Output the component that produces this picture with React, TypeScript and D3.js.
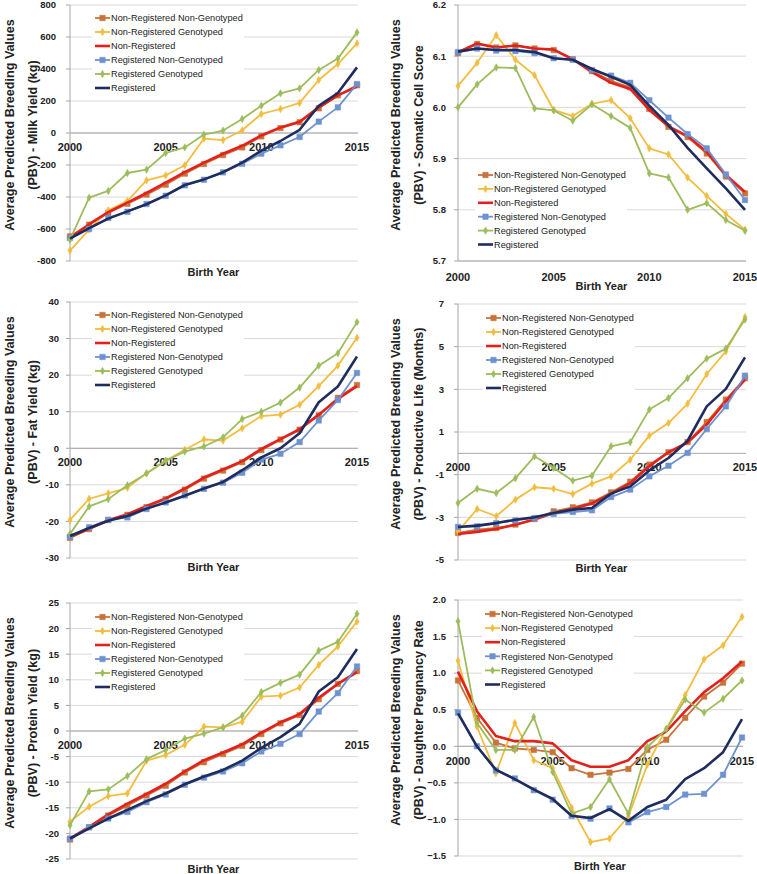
import React from 'react';
import * as d3 from 'd3';

const years = [2000, 2001, 2002, 2003, 2004, 2005, 2006, 2007, 2008, 2009, 2010, 2011, 2012, 2013, 2014, 2015];
const yearTicks = [2000, 2005, 2010, 2015];

const seriesNames = [
  'Non-Registered Non-Genotyped',
  'Non-Registered Genotyped',
  'Non-Registered',
  'Registered Non-Genotyped',
  'Registered Genotyped',
  'Registered',
];

// series order: NRNG, NRG, NR, RNG, RG, R
const milkValues = [
  [-646, -573, -500, -442, -385, -323, -254, -194, -138, -90, -21, 31, 67, 154, 235, 298],
  [-735, -604, -483, -425, -296, -265, -202, -35, -44, 17, 119, 150, 188, 331, 431, 560],
  [-655, -570, -495, -435, -375, -310, -245, -185, -130, -80, -15, 35, 70, 160, 235, 290],
  [-656, -600, -531, -492, -444, -392, -327, -292, -246, -192, -129, -77, -25, 71, 160, 306],
  [-667, -404, -362, -250, -229, -125, -90, -10, 15, 88, 171, 248, 279, 394, 465, 629],
  [-660, -595, -535, -490, -445, -390, -325, -290, -245, -185, -110, -50, 20, 170, 250, 410],
];
const milkTicks = [-800, -600, -400, -200, 0, 200, 400, 600, 800];

const scsValues = [
  [6.106, 6.124, 6.117, 6.121, 6.115, 6.112, 6.094, 6.071, 6.052, 6.039, 5.997, 5.962, 5.942, 5.910, 5.865, 5.832],
  [6.042, 6.087, 6.141, 6.093, 6.063, 5.995, 5.983, 6.007, 6.014, 5.979, 5.920, 5.908, 5.863, 5.827, 5.792, 5.761],
  [6.108, 6.125, 6.117, 6.121, 6.115, 6.113, 6.094, 6.069, 6.048, 6.036, 5.995, 5.963, 5.944, 5.913, 5.868, 5.835],
  [6.108, 6.115, 6.111, 6.110, 6.106, 6.096, 6.093, 6.073, 6.062, 6.048, 6.014, 5.980, 5.948, 5.920, 5.869, 5.819],
  [6.000, 6.045, 6.078, 6.077, 5.998, 5.994, 5.974, 6.006, 5.983, 5.960, 5.871, 5.863, 5.800, 5.813, 5.780, 5.759],
  [6.109, 6.115, 6.112, 6.112, 6.108, 6.096, 6.093, 6.075, 6.060, 6.044, 6.003, 5.966, 5.921, 5.881, 5.842, 5.800],
];
const scsTicks = [5.7, 5.8, 5.9, 6.0, 6.1, 6.2];

const fatValues = [
  [-24.5, -22.1, -19.6, -18.2, -16.1, -13.9, -11.3, -8.3, -6.1, -3.8, -0.5, 2.4, 5.1, 9.0, 13.8, 17.3],
  [-19.6, -13.8, -12.3, -10.8, -6.8, -3.4, -0.4, 2.4, 2.1, 5.5, 8.8, 9.2, 11.9, 17.0, 22.6, 30.2],
  [-24.2, -22.0, -19.7, -18.0, -15.8, -13.7, -11.0, -8.0, -5.8, -3.5, -0.2, 2.5, 5.2, 9.2, 13.5, 17.0],
  [-24.2, -21.6, -19.6, -18.9, -16.6, -14.8, -12.9, -11.1, -9.4, -6.7, -3.1, -1.5, 1.7, 7.6, 13.2, 20.6],
  [-23.4, -15.9, -13.9, -10.1, -6.9, -3.4, -0.9, 0.5, 3.0, 8.0, 10.0, 12.5, 16.6, 22.6, 26.0, 34.5],
  [-24.0, -21.8, -19.8, -18.5, -16.5, -14.8, -13.0, -11.0, -9.2, -6.0, -2.5, 0.0, 4.1, 12.6, 16.9, 25.1],
];
const fatTicks = [-30, -20, -10, 0, 10, 20, 30, 40];

const plValues = [
  [-3.73, -3.58, -3.50, -3.34, -3.08, -2.72, -2.53, -2.30, -1.83, -1.33, -0.53, 0.05, 0.53, 1.47, 2.52, 3.52],
  [-3.66, -2.61, -2.95, -2.17, -1.59, -1.66, -1.91, -1.42, -1.08, -0.30, 0.83, 1.42, 2.33, 3.72, 4.78, 6.39],
  [-3.78, -3.68, -3.55, -3.35, -3.10, -2.80, -2.60, -2.35, -1.90, -1.40, -0.60, 0.05, 0.50, 1.35, 2.45, 3.45],
  [-3.45, -3.42, -3.27, -3.14, -3.03, -2.84, -2.75, -2.67, -2.05, -1.70, -1.08, -0.58, 0.02, 1.14, 2.20, 3.64],
  [-2.33, -1.66, -1.86, -1.17, -0.14, -0.69, -1.28, -1.05, 0.33, 0.52, 2.05, 2.59, 3.52, 4.44, 4.91, 6.27],
  [-3.45, -3.39, -3.27, -3.11, -3.00, -2.80, -2.64, -2.56, -1.89, -1.55, -0.80, -0.22, 0.59, 2.20, 3.02, 4.50],
];
const plTicks = [-5, -3, -1, 1, 3, 5, 7];

const proteinValues = [
  [-21.2, -18.8, -16.5, -14.6, -12.6, -10.7, -8.1, -6.1, -4.5, -2.9, -0.6, 1.5, 3.1, 6.2, 9.2, 11.7],
  [-17.7, -14.8, -12.7, -12.2, -5.8, -4.7, -2.7, 0.85, 0.7, 1.8, 6.7, 6.9, 8.5, 12.9, 16.5, 21.4],
  [-21.0, -18.7, -16.3, -14.2, -12.3, -10.3, -7.9, -5.7, -4.2, -2.6, -0.3, 1.7, 3.3, 6.5, 9.2, 11.5],
  [-21.0, -18.8, -17.1, -15.8, -13.9, -12.4, -10.5, -9.1, -7.9, -6.3, -4.0, -2.5, -0.6, 3.8, 7.4, 12.6],
  [-18.4, -11.8, -11.4, -8.8, -5.5, -3.7, -1.5, -0.5, 0.7, 3.0, 7.6, 9.4, 11.0, 15.7, 17.4, 22.9],
  [-21.0, -19.0, -17.1, -15.4, -13.7, -12.2, -10.4, -8.9, -7.6, -5.8, -3.3, -1.2, 1.4, 7.7, 10.5, 16.0],
];
const proteinTicks = [-25, -20, -15, -10, -5, 0, 5, 10, 15, 20, 25];

const dprValues = [
  [0.90, 0.39, 0.05, -0.03, -0.05, -0.08, -0.30, -0.39, -0.36, -0.31, -0.05, 0.09, 0.39, 0.68, 0.87, 1.13],
  [1.17, 0.27, -0.37, 0.32, -0.19, -0.30, -0.84, -1.31, -1.26, -0.96, -0.25, 0.24, 0.70, 1.19, 1.38, 1.77],
  [1.02, 0.48, 0.14, 0.07, 0.07, 0.04, -0.19, -0.28, -0.28, -0.19, 0.07, 0.20, 0.48, 0.74, 0.93, 1.16],
  [0.46, 0.00, -0.33, -0.44, -0.60, -0.73, -0.95, -0.99, -0.85, -1.04, -0.90, -0.83, -0.66, -0.65, -0.39, 0.12],
  [1.71, 0.32, -0.05, -0.05, 0.40, -0.35, -0.92, -0.83, -0.45, -0.92, -0.01, 0.23, 0.64, 0.46, 0.65, 0.90],
  [0.45, 0.00, -0.32, -0.45, -0.59, -0.72, -0.95, -0.98, -0.86, -1.02, -0.83, -0.73, -0.45, -0.30, -0.08, 0.37],
];
const dprTicks = [-1.5, -1.0, -0.5, 0.0, 0.5, 1.0, 1.5, 2.0];

// styles
const COLORS = ['#C8733A', '#F2BD3E', '#E3211C', '#6E91D0', '#9DBC5C', '#1F2C5E'];
const WIDTHS = [1.8, 1.8, 2.6, 1.8, 1.8, 2.6];
const MARKERS: (string | null)[] = ['square', 'diamond', null, 'square', 'diamond', null];
const FONT = '"Liberation Sans", Arial, sans-serif';

type PanelProps = {
  values: number[][];
  ticks: number[];
  fmt: (v: number) => string;
  left: number; right: number; top: number; bottom: number;
  crossAt: number;
  tickLabelX: number;
  yearDy: number;
  titleY: number;
  yTitle1: string; yTitle2: string;
  yTitleX1: number; yTitleX2: number;
  legendX: number; legendY: number; legendStep: number;
};

function Marker({ kind, x, y, color }: { kind: string; x: number; y: number; color: string }) {
  const sym = kind === 'square' ? d3.symbolSquare : d3.symbolDiamond;
  const size = kind === 'square' ? 30 : 16;
  const p = d3.symbol().type(sym).size(size)();
  return <path d={p || ''} transform={`translate(${x},${y})`} fill={color} stroke={color} strokeWidth={0.5} />;
}

function Panel(props: PanelProps) {
  const { values, ticks, fmt, left, right, top, bottom, crossAt } = props;
  const ext = d3.extent(ticks) as [number, number];
  const x = d3.scaleLinear().domain([years[0], years[years.length - 1]]).range([left, right]);
  const y = d3.scaleLinear().domain(ext).range([bottom, top]);
  const axisY = y(crossAt);
  const line = d3.line<number>().x((_, i) => x(years[i])).y((d) => y(d));
  const midY = (top + bottom) / 2 - 8;
  const midX = (left + right) / 2;
  const legW = 152;
  return (
    <g>
      {ticks.map((t) => (
        <line key={'g' + t} x1={left} x2={right + 1} y1={y(t)} y2={y(t)} stroke="#D9D9D9" strokeWidth={1} />
      ))}
      <line x1={left} x2={left} y1={top} y2={bottom} stroke="#A6A6A6" strokeWidth={1} />
      {ticks.map((t) => (
        <line key={'tk' + t} x1={left - 4} x2={left} y1={y(t)} y2={y(t)} stroke="#A6A6A6" strokeWidth={1} />
      ))}
      <line x1={left} x2={right + 1} y1={axisY} y2={axisY} stroke="#A6A6A6" strokeWidth={1} />
      {ticks.map((t) => (
        <text key={'tl' + t} x={props.tickLabelX} y={y(t)} dy="0.35em" textAnchor="end"
          fontFamily={FONT} fontWeight="bold" fontSize={9.5} fill="#222">{fmt(t)}</text>
      ))}
      {yearTicks.map((yr) => (
        <text key={'yr' + yr} x={x(yr)} y={axisY + props.yearDy} textAnchor="middle"
          fontFamily={FONT} fontWeight="bold" fontSize={11} fill="#222">{yr}</text>
      ))}
      <text x={midX} y={props.titleY} textAnchor="middle" fontFamily={FONT} fontWeight="bold" fontSize={11} fill="#222">Birth Year</text>
      <text transform={`translate(${props.yTitleX1},${midY}) rotate(-90)`} textAnchor="middle" dy="0.35em"
        fontFamily={FONT} fontWeight="bold" fontSize={12.6} fill="#222">{props.yTitle1}</text>
      <text transform={`translate(${props.yTitleX2},${midY}) rotate(-90)`} textAnchor="middle" dy="0.35em"
        fontFamily={FONT} fontWeight="bold" fontSize={12.6} fill="#222">{props.yTitle2}</text>

      <rect x={props.legendX - 3} y={props.legendY - 7} width={legW} height={props.legendStep * 5 + 14} fill="#fff" />
      {seriesNames.map((name, i) => {
        const ly = props.legendY + i * props.legendStep;
        return (
          <g key={'lg' + i}>
            <line x1={props.legendX} x2={props.legendX + 15} y1={ly} y2={ly} stroke={COLORS[i]} strokeWidth={WIDTHS[i]} />
            {MARKERS[i] && <Marker kind={MARKERS[i] as string} x={props.legendX + 7.5} y={ly} color={COLORS[i]} />}
            <text x={props.legendX + 16} y={ly} dy="0.35em" fontFamily={FONT} fontSize={9.2} fill="#222">{name}</text>
          </g>
        );
      })}

      {values.map((vals, i) => (
        <g key={'s' + i}>
          <path d={line(vals) || ''} fill="none" stroke={COLORS[i]} strokeWidth={WIDTHS[i]} strokeLinejoin="round" />
          {MARKERS[i] && vals.map((v, j) => (
            <Marker key={j} kind={MARKERS[i] as string} x={x(years[j])} y={y(v)} color={COLORS[i]} />
          ))}
        </g>
      ))}
    </g>
  );
}

const f0 = (v: number) => String(v);
const f1 = (v: number) => d3.format('.1f')(v);

export default function App() {
  return (
    <svg width={757} height={874} viewBox="0 0 757 874"
      style={{ position: 'absolute', left: 0, top: 0, background: '#fff' }}>
      <rect x={0} y={0} width={757} height={874} fill="#fff" />
      <Panel values={milkValues} ticks={milkTicks} fmt={f0}
        left={70} right={357} top={5} bottom={261} crossAt={0}
        tickLabelX={56} yearDy={18} titleY={276}
        yTitle1="Average Predicted Breeding Values" yTitle2="(PBV) - Milk Yield (kg)"
        yTitleX1={10} yTitleX2={33}
        legendX={95} legendY={18} legendStep={14} />
      <Panel values={scsValues} ticks={scsTicks} fmt={f1}
        left={458} right={745} top={5} bottom={261} crossAt={5.7}
        tickLabelX={446} yearDy={20} titleY={290}
        yTitle1="Average Predicted Breeding Values" yTitle2="(PBV) - Somatic Cell Score"
        yTitleX1={396} yTitleX2={419}
        legendX={478} legendY={175} legendStep={13.9} />
      <Panel values={fatValues} ticks={fatTicks} fmt={f0}
        left={70} right={357} top={302} bottom={558} crossAt={0}
        tickLabelX={59} yearDy={18} titleY={571}
        yTitle1="Average Predicted Breeding Values" yTitle2="(PBV) - Fat Yield (kg)"
        yTitleX1={10} yTitleX2={33}
        legendX={95} legendY={315} legendStep={14} />
      <Panel values={plValues} ticks={plTicks} fmt={f0}
        left={458} right={745} top={304} bottom={560} crossAt={0}
        tickLabelX={444} yearDy={18} titleY={572}
        yTitle1="Average Predicted Breeding Values" yTitle2="(PBV) - Productive Life (Months)"
        yTitleX1={396} yTitleX2={419}
        legendX={486} legendY={318} legendStep={14} />
      <Panel values={proteinValues} ticks={proteinTicks} fmt={f0}
        left={70} right={357} top={603} bottom={859} crossAt={0}
        tickLabelX={59} yearDy={18} titleY={873}
        yTitle1="Average Predicted Breeding Values" yTitle2="(PBV) - Protein Yield (kg)"
        yTitleX1={10} yTitleX2={33}
        legendX={95} legendY={617} legendStep={14} />
      <Panel values={dprValues} ticks={dprTicks} fmt={f1}
        left={458} right={742} top={600} bottom={856} crossAt={0}
        tickLabelX={446} yearDy={19} titleY={870}
        yTitle1="Average Predicted Breeding Values" yTitle2="(PBV) - Daughter Pregnancy Rate"
        yTitleX1={396} yTitleX2={419}
        legendX={485} legendY={614} legendStep={14.1} />
    </svg>
  );
}
